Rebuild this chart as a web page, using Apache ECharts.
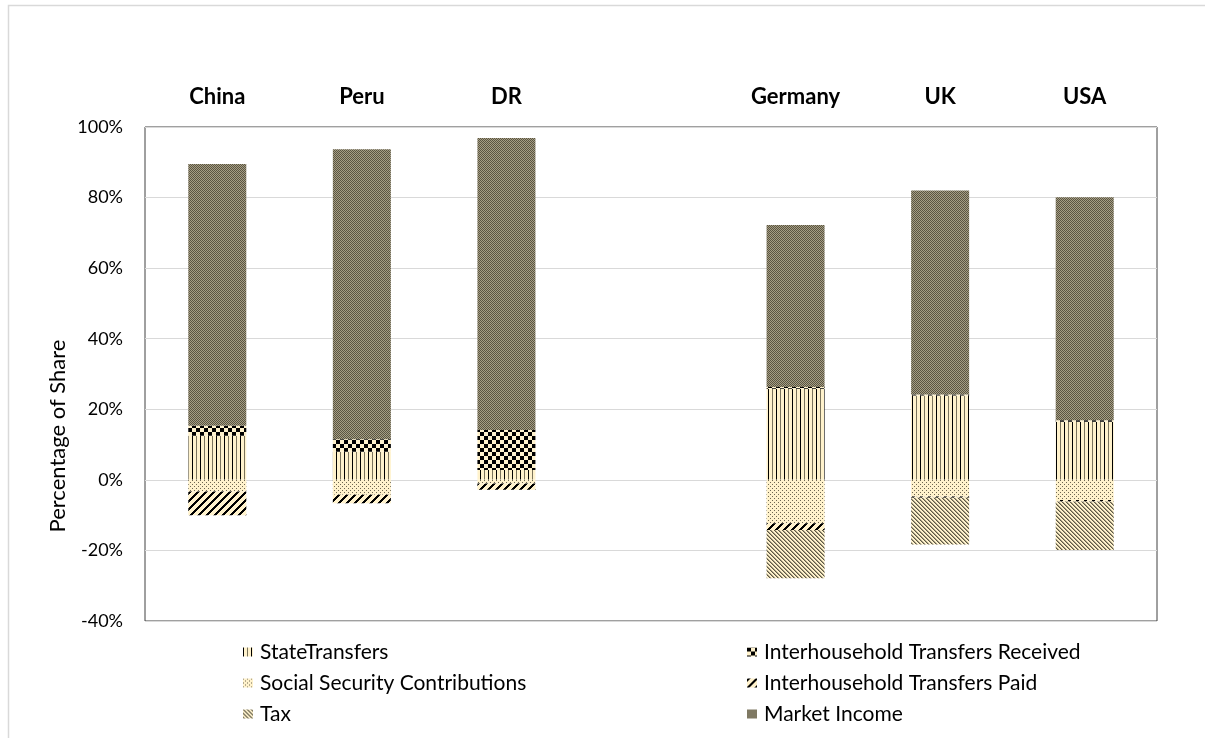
<!DOCTYPE html>
<html>
<head>
<meta charset="utf-8">
<script src="https://cdn.jsdelivr.net/npm/echarts@6/dist/echarts.min.js"></script>
<style>
html,body{margin:0;padding:0;background:#fff;}
#chart{width:1205px;height:738px;}
</style>
</head>
<body>
<div id="chart"></div>
<script>
// ---- data ----
const categories = ['China', 'Peru', 'DR', '', 'Germany', 'UK', 'USA'];
const stateTransfers = [12.5, 8.0, 2.8, '-', 25.8, 23.9, 16.5];
const transfersReceived = [2.8, 3.5, 11.3, '-', 0.5, 0.3, 0.4];
const marketIncome = [74.2, 82.2, 82.8, '-', 45.9, 57.8, 63.2];
const socialSecurity = [-3.3, -4.2, -1.0, '-', -12.3, -4.7, -5.7];
const transfersPaid = [-6.7, -2.4, -1.8, '-', -1.9, -0.4, -0.4];
const tax = [0, 0, 0, '-', -13.7, -13.2, -13.8];
const yTicks = { min: -40, max: 100, interval: 20 };

// ---- patterns ----
const CREAM = '#FFF2CC';
function pattern(w, h, fn) {
  const c = document.createElement('canvas');
  c.width = w; c.height = h;
  const ctx = c.getContext('2d');
  ctx.fillStyle = CREAM; ctx.fillRect(0, 0, w, h);
  for (let y = 0; y < h; y++) for (let x = 0; x < w; x++) {
    const col = fn(x, y);
    if (col) { ctx.fillStyle = col; ctx.fillRect(x, y, 1, 1); }
  }
  return { image: c, repeat: 'repeat' };
}
const patState = pattern(8, 1, (x) => x === 0 ? '#000' : (x === 4 ? '#7a735c' : null));
const patSSC = pattern(4, 4, (x, y) => ((x === 0 && y === 0) || (x === 2 && y === 2)) ? '#6e6752' : null);
const patTax = pattern(4, 4, (x, y) => ((x - y + 4) % 4 === 0) ? '#5e5845' : (((x - y + 4) % 4 === 1) ? '#a8a085' : null));
const patReceived = pattern(8, 8, (x, y) => ((Math.floor(x / 4) + Math.floor(y / 4)) % 2 === 0) ? '#000' : null);
const patPaid = pattern(8, 8, (x, y) => ((x + y) % 8 < 3) ? '#000' : null);
const patMarket = pattern(2, 2, (x, y) => ((x + y) % 2 === 0) ? '#5a5442' : '#a59e84');

const FONT = 'Lato, "Liberation Sans", sans-serif';

const chart = echarts.init(document.getElementById('chart'), null, { renderer: 'canvas' });

function barSeries(name, data, color) {
  return {
    name: name, type: 'bar', stack: 'total', data: data,
    barWidth: 58,
    itemStyle: { color: color },
    emphasis: { disabled: true }
  };
}

const legendText = { fontSize: 21, color: '#000', lineHeight: 24, fontFamily: FONT, padding: [0, 0, 0, 2] };

const option = {
  backgroundColor: '#fff',
  animation: false,
  textStyle: { fontFamily: FONT },
  grid: { left: 145, right: 48, top: 127, bottom: 117, show: true, borderColor: '#404040', borderWidth: 1, containLabel: false },
  xAxis: {
    type: 'category', data: categories, position: 'top',
    axisLine: { show: false }, axisTick: { show: false },
    axisLabel: { fontWeight: 'bold', fontSize: 22, color: '#000', margin: 19, fontFamily: FONT }
  },
  yAxis: {
    type: 'value', min: yTicks.min, max: yTicks.max, interval: yTicks.interval,
    axisLine: { show: false }, axisTick: { show: false },
    axisLabel: { formatter: '{value}%', fontSize: 18, color: '#000', margin: 22, fontFamily: FONT },
    splitLine: { lineStyle: { color: '#d9d9d9', width: 1 } }
  },
  legend: [
    {
      left: 243, top: 640, padding: 0, orient: 'vertical', itemGap: 7, icon: 'rect', itemWidth: 10, itemHeight: 9,
      textStyle: legendText,
      data: ['StateTransfers', 'Social Security Contributions', 'Tax']
    },
    {
      left: 747, top: 640, padding: 0, orient: 'vertical', itemGap: 7, icon: 'rect', itemWidth: 10, itemHeight: 9,
      textStyle: legendText,
      data: ['Interhousehold Transfers Received', 'Interhousehold Transfers Paid', 'Market Income']
    }
  ],
  graphic: [
    { type: 'rect', silent: true, shape: { x: 8.5, y: 5.5, width: 1400, height: 900 }, style: { fill: 'none', stroke: '#d9d9d9', lineWidth: 1.5 } },
    { type: 'text', silent: true, x: 58, y: 436, rotation: Math.PI / 2,
      style: { text: 'Percentage of Share', fontSize: 22, fill: '#000', align: 'center', verticalAlign: 'middle', fontFamily: FONT } }
  ],
  series: [
    barSeries('StateTransfers', stateTransfers, patState),
    barSeries('Social Security Contributions', socialSecurity, patSSC),
    barSeries('Interhousehold Transfers Received', transfersReceived, patReceived),
    barSeries('Interhousehold Transfers Paid', transfersPaid, patPaid),
    barSeries('Tax', tax, patTax),
    barSeries('Market Income', marketIncome, patMarket)
  ]
};
chart.setOption(option);
</script>
</body>
</html>
